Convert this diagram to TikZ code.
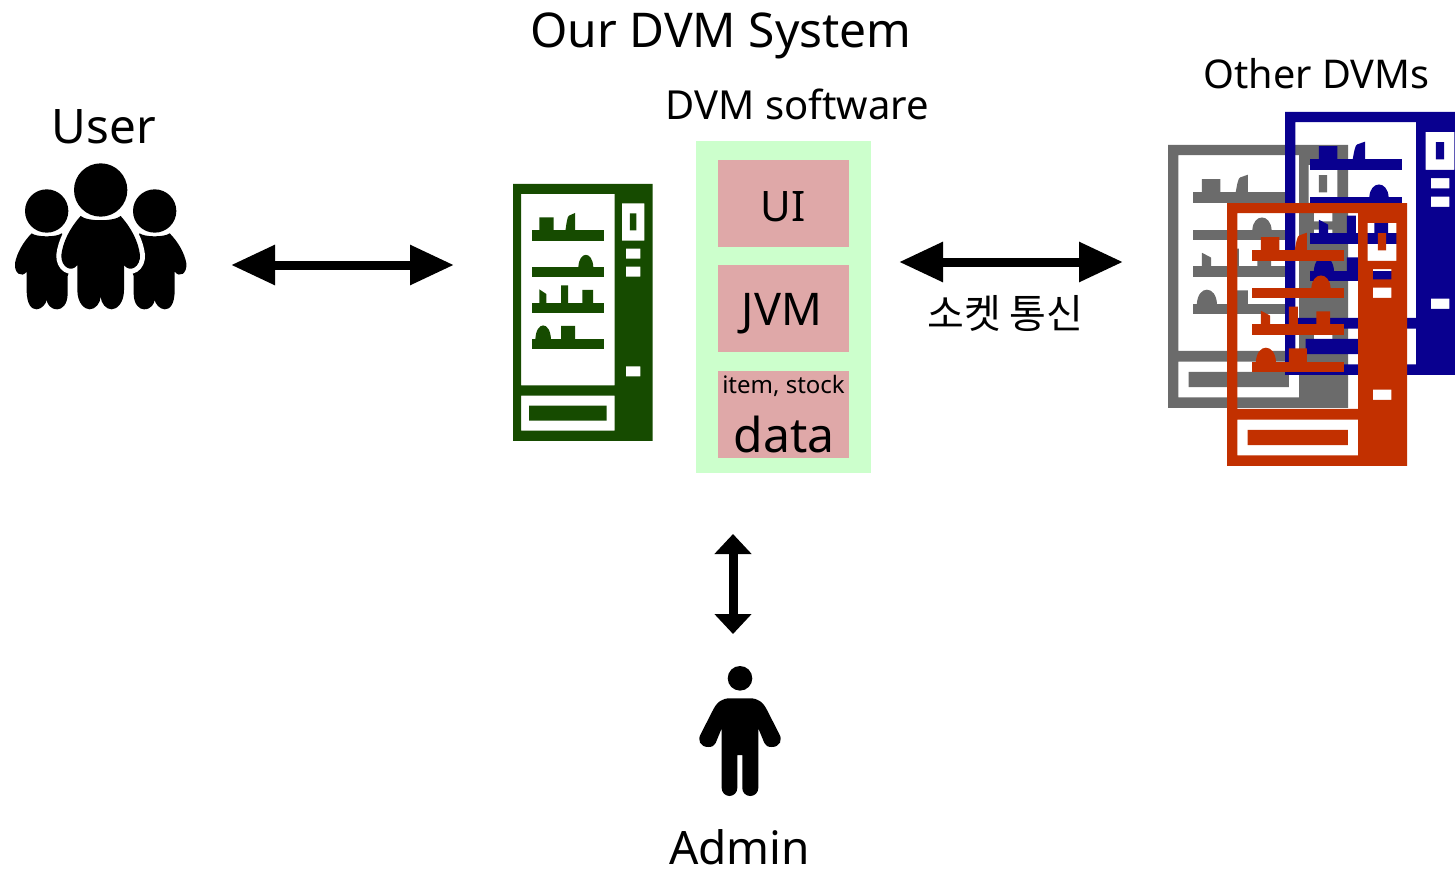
\documentclass[tikz,border=0pt]{standalone}
\usepackage{fontspec}
\setmainfont{Noto Sans}
\newfontfamily\cjk{Noto Sans CJK KR}
\usetikzlibrary{arrows.meta, backgrounds, fit, positioning}

% vending machine icon: colour, left, top, xscale, yscale
\newcommand{\dvmicon}[5]{%
  \begin{scope}[shift={(#2,#3)}, xscale=#4, yscale=#5]
    \fill[#1, even odd rule] (0,0) rectangle (419,771)
      (24,30) rectangle (305,604)
      (24,635) rectangle (305,740) (48,665) rectangle (281,710)
      (327,58) rectangle (394,170) (351,88) rectangle (370,139)
      (339,194) rectangle (382,224)
      (339,248) rectangle (382,278)
      (339,547) rectangle (382,577);
    \foreach \shelfy in {139,248,356,465}
      \fill[#1] (58,\shelfy) rectangle (272,\shelfy+31);
    \fill[#1] (79,100) rectangle (122,141)
      (144,304) rectangle (165,358)
      (208,318) rectangle (240,358)
      (144,426) rectangle (186,467);
    \fill[#1] (157,141) .. controls (161,115) and (163,97) .. (168,95) -- (186,87) -- (186,141) -- cycle;
    \fill[#1] (79,316) -- (100,330) -- (100,358) -- (79,358) -- cycle;
    \fill[#1] (196,250) .. controls (198,200) and (239,200) .. (241,250) -- cycle;
    \fill[#1] (67,467) .. controls (69,410) and (112,410) .. (114,467) -- cycle;
  \end{scope}}

\begin{document}
\begin{tikzpicture}[
            x = 1pt,
            y = -1pt,
            > = {Triangle[length=44pt, width=38pt]}, % arrow head style
            node distance = 18pt,% distance between nodes
            inner sep = 0pt,
        ]
\tikzstyle{nodestyle}=[
            fill = softbox,
            minimum width = 131pt,
            minimum height = 87pt
        ]
\tikzstyle{bigarrow}=[<->, line width = 9pt]
\tikzstyle{halo}=[preaction={draw=white, line width=10pt}]
\definecolor{softbox}{HTML}{DFA8A8}
\definecolor{softback}{HTML}{CCFFCC}
\definecolor{dvmgreen}{HTML}{164B00}
\definecolor{dvmgray}{HTML}{6B6B6B}
\definecolor{dvmblue}{HTML}{09008F}
\definecolor{dvmred}{HTML}{C23000}

\useasboundingbox (0,0) rectangle (1455,869);

\node (title) at (721,35.5) {\fontsize{47.9}{48}\selectfont Our DVM System};
\node (software) at (797.5,104) {\fontsize{40}{40}\selectfont DVM software};
\node (others) at (1316.5,74) {\fontsize{39.6}{40}\selectfont Other DVMs};
\node (user) at (104,127) {\fontsize{47.6}{48}\selectfont User};
\node (admin) at (739.5,847.5) {\fontsize{46}{46}\selectfont Admin};

% software stack
\node[nodestyle](ui) at (783.5,203.5) {};
\node[nodestyle, below=of ui](jvm) {};
\node[nodestyle, below=of jvm](data) {};
\node (uitext) at (783,206.5) {\fontsize{42}{42}\selectfont UI};
\node (jvmtext) at (782,314) {\fontsize{45}{45}\selectfont JVM};
\node (itemtext) at (783.5,385.5) {\fontsize{24}{24}\selectfont item, stock};
\node (datatext) at (784,434) {\fontsize{48}{48}\selectfont data};
\begin{scope}[on background layer]
\node[fill=softback, inner xsep=21.5pt, inner ysep=17pt, fit=(ui) (data), yshift=2pt] (softwarebox) {};
\end{scope}

% machines
\dvmicon{dvmgreen}{513}{184}{0.3333}{0.3333}
\dvmicon{dvmgray}{1168}{145}{0.43}{0.341}
\begin{scope}
\clip (0,0) rectangle (1455,869);
\dvmicon{dvmblue}{1285}{112}{0.43}{0.341}
\end{scope}
\dvmicon{dvmred}{1227}{203}{0.43}{0.341}

% user group
\foreach \side in {1,-1} {
\begin{scope}[shift={(100.67,150)}, xscale=\side/3, yscale=1/3]
\fill (-162,183) circle[radius=65];
\fill (-207,250) .. controls (-192,262) and (-132,262) .. (-117,250) -- (-72,300) -- (-99,378) -- (-99,430)
  .. controls (-99,465) and (-117,478) .. (-130,478) .. controls (-152,478) and (-161,460) .. (-162,450)
  .. controls (-163,460) and (-177,478) .. (-192,478) .. controls (-207,478) and (-222,465) .. (-222,420)
  -- (-222,365) .. controls (-237,385) and (-260,370) .. (-257,340) .. controls (-252,310) and (-232,275) .. (-207,250) -- cycle;
\end{scope}}
\begin{scope}[shift={(0,150)}, scale=1/3]
\fill[halo] (242,198) .. controls (262,215) and (342,215) .. (362,198)
  .. controls (395,235) and (415,275) .. (420,315) .. controls (422,350) and (390,370) .. (372,345)
  -- (372,420) .. controls (372,460) and (350,478) .. (335,478) .. controls (318,478) and (303,460) .. (302,440)
  .. controls (301,460) and (286,478) .. (269,478) .. controls (254,478) and (232,460) .. (232,420)
  -- (232,345) .. controls (214,370) and (182,350) .. (184,315) .. controls (189,275) and (209,235) .. (242,198) -- cycle;
\fill (302,120) circle[radius=80];
\end{scope}

% admin
\fill (740,678.3) circle[radius=12.3];
\fill (730,698.3) -- (750,698.3) .. controls (758,698.3) and (763,702) .. (767,710) -- (779,733.5)
  .. controls (783,740) and (780,747) .. (771.7,747) .. controls (768,747) and (766,746) .. (764.4,743.1) -- (758.3,728.3)
  [rounded corners=7.9pt] -- (758.3,796) -- (742.3,796) [sharp corners] -- (742.3,755) -- (737.3,755)
  [rounded corners=7.9pt] -- (737.3,796) -- (721.7,796) [sharp corners] -- (721.7,728.3) -- (715.6,743.1)
  .. controls (714,746) and (712,747) .. (708.3,747) .. controls (700,747) and (697,740) .. (701,733.5)
  -- (713,710) .. controls (717,702) and (722,698.3) .. (730,698.3) -- cycle;

% connectors
\coordinate (userend) at (231,265);
\coordinate (dvmend) at (454,265);
\coordinate (socketleft) at (899,262);
\coordinate (socketright) at (1123,262);
\coordinate (softwareend) at (733,534);
\coordinate (adminend) at (733,634);
\draw[bigarrow] (userend) -- (dvmend);
\draw[bigarrow] (socketleft) -- (socketright);
\draw[bigarrow, >={Triangle[length=20pt, width=36pt]}] (softwareend) -- (adminend);
\node (socket) at (1005.5,313.5) {\fontsize{40}{40}\selectfont\cjk 소켓 통신};
\end{tikzpicture}
\end{document}
